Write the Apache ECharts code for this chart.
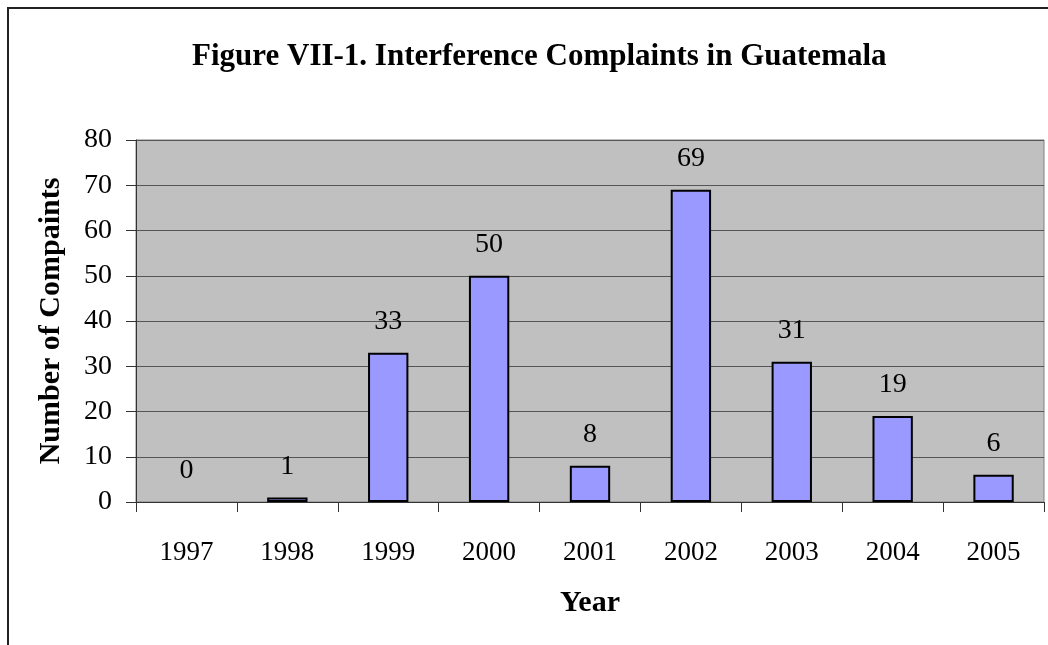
<!DOCTYPE html>
<html>
<head>
<meta charset="utf-8">
<script src="https://cdn.jsdelivr.net/npm/echarts@6/dist/echarts.min.js"></script>
<style>
  html, body { margin: 0; padding: 0; background: #fff; }
  #chart { width: 1048px; height: 645px; }
</style>
</head>
<body>
<div id="chart"></div>
<script>
// data
const years = ['1997', '1998', '1999', '2000', '2001', '2002', '2003', '2004', '2005'];
const complaints = [0, 1, 33, 50, 8, 69, 31, 19, 6];
const yTicks = [0, 10, 20, 30, 40, 50, 60, 70, 80];

const serif = '"Liberation Serif", "Times New Roman", serif';

const chart = echarts.init(document.getElementById('chart'), null, { renderer: 'canvas' });

const option = {
  animation: false,
  backgroundColor: '#fff',
  title: {
    text: 'Figure VII-1. Interference Complaints in Guatemala',
    left: 187,
    top: 36,
    textStyle: {
      fontFamily: serif,
      fontWeight: 'bold',
      fontSize: 31,
      color: '#000'
    }
  },
  graphic: [
    {
      type: 'rect',
      shape: { x: 8, y: 8, width: 1060, height: 660 },
      style: { fill: 'none', stroke: '#222', lineWidth: 2 },
      silent: true
    }
  ],
  grid: {
    left: 136,
    right: 4,
    top: 140,
    bottom: 143,
    show: true,
    backgroundColor: '#C0C0C0',
    borderColor: '#808080',
    borderWidth: 1
  },
  xAxis: {
    type: 'category',
    data: years,
    name: 'Year',
    nameLocation: 'middle',
    nameGap: 86,
    nameTextStyle: {
      fontFamily: serif,
      fontWeight: 'bold',
      fontSize: 30,
      color: '#000'
    },
    axisLine: { lineStyle: { color: '#333', width: 1 } },
    axisTick: { show: true, length: 10, lineStyle: { color: '#333' } },
    axisLabel: {
      margin: 37,
      fontFamily: serif,
      fontSize: 27,
      color: '#000'
    }
  },
  yAxis: {
    type: 'value',
    min: yTicks[0],
    max: yTicks[yTicks.length - 1],
    interval: 10,
    name: 'Number of Compaints',
    nameLocation: 'middle',
    nameGap: 70,
    nameTextStyle: {
      fontFamily: serif,
      fontWeight: 'bold',
      fontSize: 30,
      color: '#000'
    },
    axisLine: { show: true, lineStyle: { color: '#333', width: 1 } },
    axisTick: { show: true, length: 10, lineStyle: { color: '#333' } },
    axisLabel: {
      margin: 24,
      fontFamily: serif,
      fontSize: 28,
      color: '#000'
    },
    splitLine: { show: true, lineStyle: { color: '#555', width: 1 } }
  },
  series: [
    {
      type: 'bar',
      barWidth: '40%',
      data: complaints.map(v => ({
        value: v,
        itemStyle: v === 0 ? { borderWidth: 0 } : undefined
      })),
      itemStyle: {
        color: '#9999FF',
        borderColor: '#000',
        borderWidth: 2
      },
      label: {
        show: true,
        position: 'top',
        distance: 17,
        fontFamily: serif,
        fontSize: 28,
        color: '#000'
      }
    }
  ]
};

chart.setOption(option);
</script>
</body>
</html>
